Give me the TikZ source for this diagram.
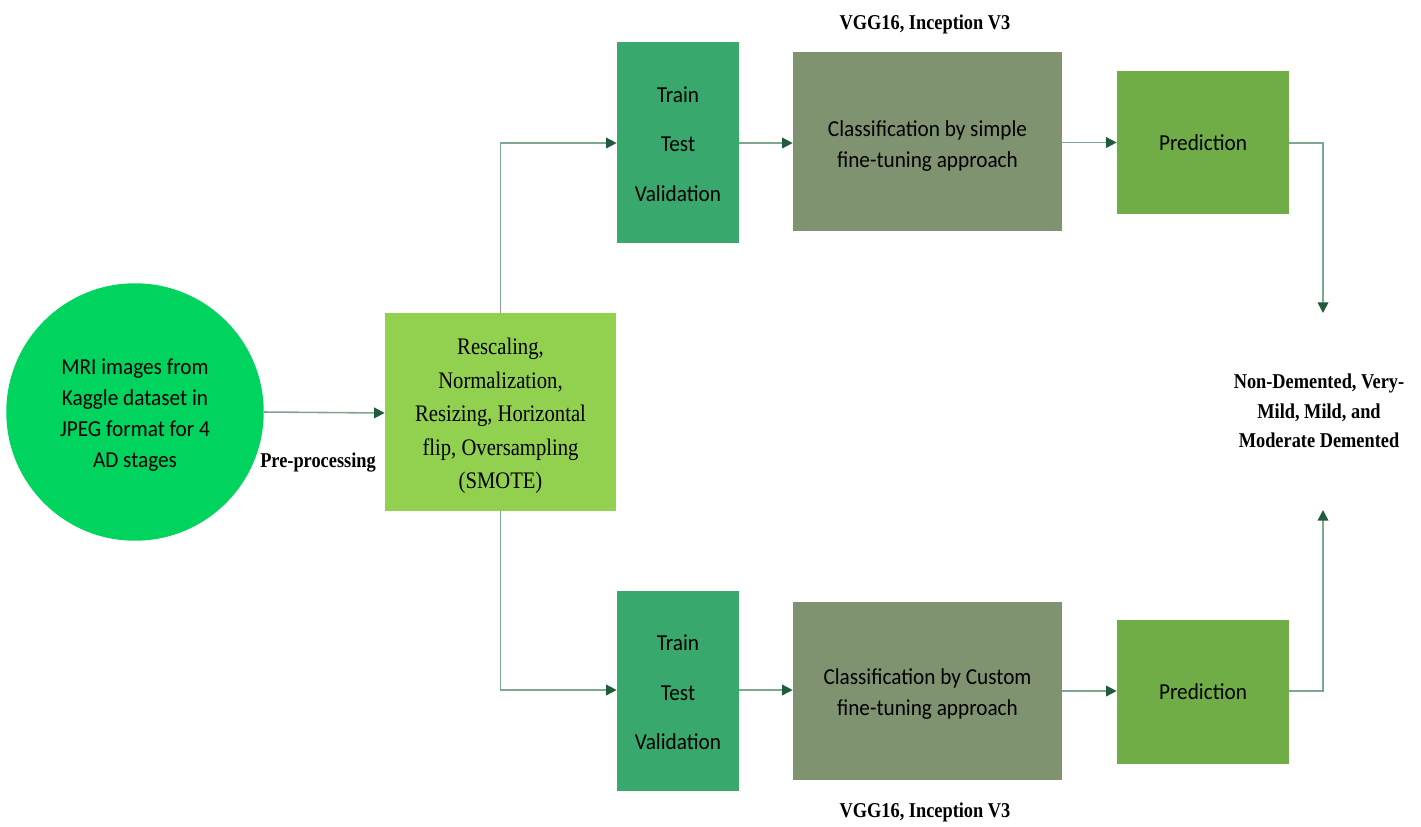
\documentclass[tikz,border=0pt]{standalone}
\usepackage{fontspec}
\setmainfont{Liberation Serif}[FakeStretch=0.87]
\newfontfamily\calibrifont{Carlito}[FakeStretch=0.93]
\usetikzlibrary{arrows.meta}
\definecolor{circgreen}{HTML}{00D45F}
\definecolor{prepgreen}{HTML}{92D050}
\definecolor{ttvgreen}{HTML}{38A86C}
\definecolor{clsgreen}{HTML}{7F9370}
\definecolor{predgreen}{HTML}{70AD47}
\definecolor{linegreen}{HTML}{7FA68F}
\definecolor{tipgreen}{HTML}{1E5C3C}
\tikzset{
  box/.style={draw=none, inner sep=0pt, align=center, text=black},
  calfont/.style={font=\calibrifont\fontsize{13}{17.6}\selectfont},
  timesfont/.style={font=\fontsize{13.5}{19}\selectfont},
  boldlabel/.style={font=\bfseries\fontsize{12}{16.5}\selectfont, align=center, inner sep=0pt},
  conn/.style={draw=linegreen, line width=0.9pt, -{Triangle[length=6pt,width=6pt,color=tipgreen]}},
}
\begin{document}
\begin{tikzpicture}[x=0.02cm,y=-0.02cm]
\useasboundingbox (0,0) rectangle (1421,826);
% nodes
\node[circle, fill=circgreen, minimum size=5.15cm, inner sep=0pt] (mri) at (135,412) {};
\node[align=center, calfont, inner sep=0pt] (mritext) at (135,415)
  {MRI images from\\Kaggle dataset in\\JPEG format for 4\\AD stages};
\node[box, fill=prepgreen, minimum width=4.62cm, minimum height=3.96cm] (prep) at (500.5,412) {};
\node[box, timesfont] (preptext) at (500.5,416)
  {Rescaling,\\Normalization,\\Resizing, Horizontal\\flip, Oversampling\\(SMOTE)};
\node[box, fill=ttvgreen, minimum width=2.44cm, minimum height=4.02cm] (ttv1) at (678,142.5) {};
\node[box, calfont] (ttv1text) at (678,144) {Train\\[10.5pt]Test\\[10.5pt]Validation};
\node[box, fill=clsgreen, minimum width=5.38cm, minimum height=3.58cm] (cls1) at (927.5,141.5) {};
\node[box, calfont] (cls1text) at (927.5,146) {Classification by simple\\fine-tuning approach};
\node[box, fill=predgreen, minimum width=3.44cm, minimum height=2.86cm, calfont] (pred1) at (1203,142.5)
  {Prediction};
\node[box, fill=ttvgreen, minimum width=2.44cm, minimum height=4.0cm] (ttv2) at (678,691) {};
\node[box, calfont] (ttv2text) at (678,692.5) {Train\\[10.5pt]Test\\[10.5pt]Validation};
\node[box, fill=clsgreen, minimum width=5.38cm, minimum height=3.56cm] (cls2) at (927.5,691) {};
\node[box, calfont] (cls2text) at (927.5,694) {Classification by Custom\\fine-tuning approach};
\node[box, fill=predgreen, minimum width=3.44cm, minimum height=2.88cm, calfont] (pred2) at (1203,692)
  {Prediction};
% labels
\node[boldlabel] (vgg1) at (925,24) {VGG16, Inception V3};
\node[boldlabel] (vgg2) at (925,812) {VGG16, Inception V3};
\node[boldlabel] (pre) at (318,463) {Pre-processing};
\node[boldlabel, font=\bfseries\fontsize{12}{16.8}\selectfont] (out) at (1319,411) {Non-Demented, Very-\\Mild, Mild, and\\Moderate Demented};
% coordinates
\coordinate (outtop) at (1323,313);
\coordinate (outbot) at (1323,510);
% connectors
\draw[conn] (mri.east) -- (prep.west |- 0,413);
\draw[conn] (prep.north) |- (ttv1.west |- 0,143);
\draw[conn] (prep.south) |- (ttv2.west |- 0,690);
\draw[conn] (ttv1.east |- 0,143) -- (cls1.west |- 0,143);
\draw[conn] (cls1.east |- 0,142.5) -- (pred1.west |- 0,142.5);
\draw[conn] (ttv2.east |- 0,690) -- (cls2.west |- 0,690);
\draw[conn] (cls2.east |- 0,691) -- (pred2.west |- 0,691);
\draw[conn] (pred1.east |- 0,143) -| (outtop);
\draw[conn] (pred2.east |- 0,691) -| (outbot);
\end{tikzpicture}
\end{document}
